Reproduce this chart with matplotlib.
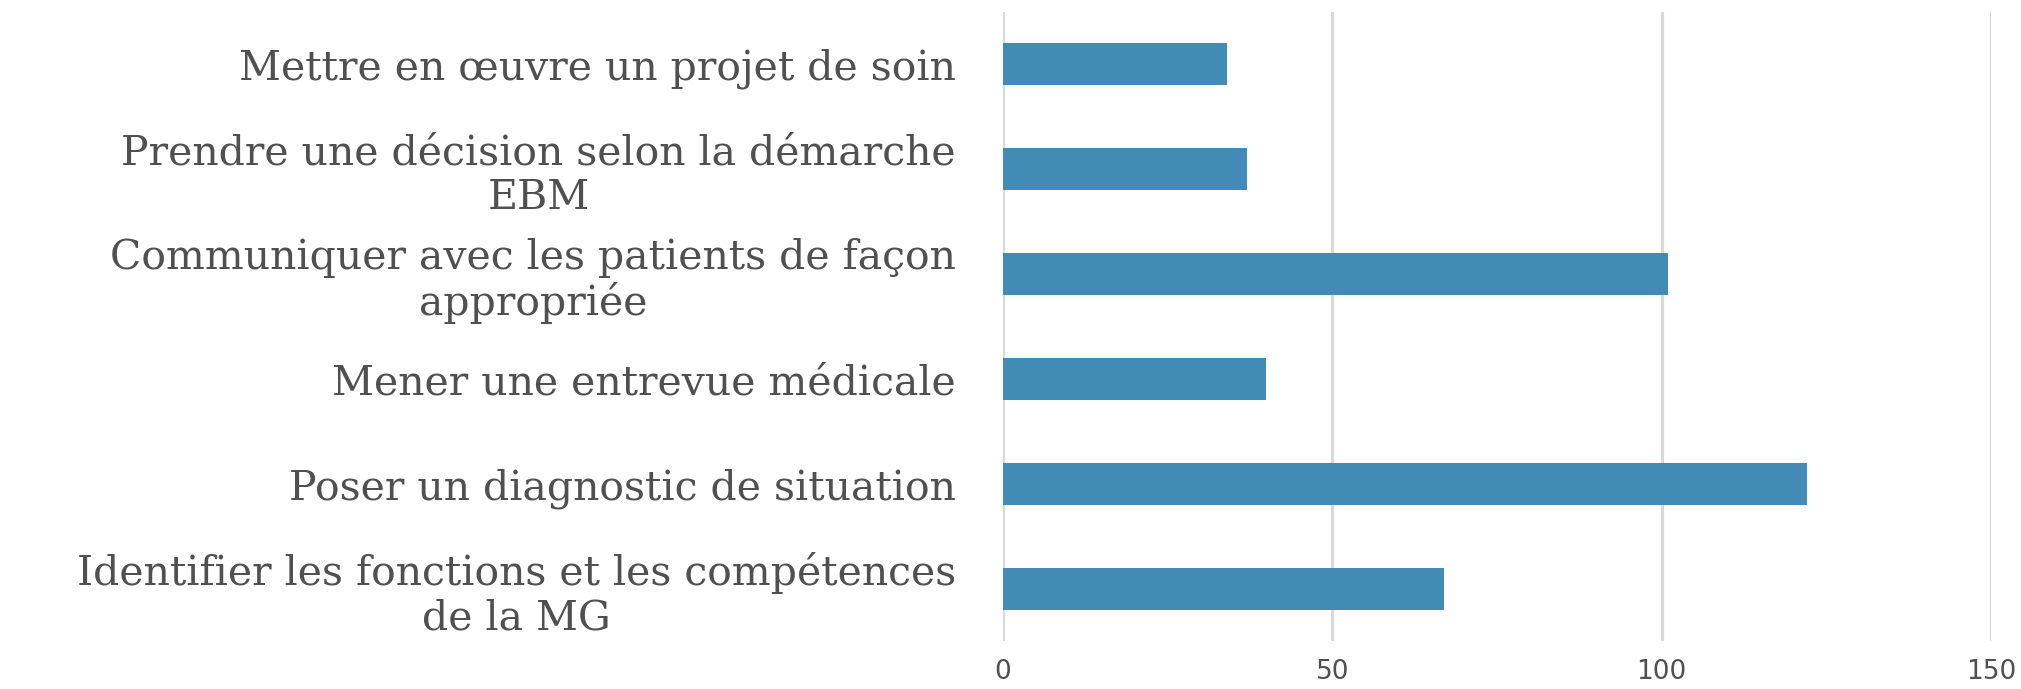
import matplotlib
matplotlib.use("Agg")
import matplotlib.pyplot as plt

categories = [
    "Mettre en œuvre un projet de soin",
    "Prendre une décision selon la démarche\nEBM",
    "Communiquer avec les patients de façon\nappropriée",
    "Mener une entrevue médicale",
    "Poser un diagnostic de situation",
    "Identifier les fonctions et les compétences\nde la MG",
]
values = [34, 37, 101, 40, 122, 67]
xticks = [0, 50, 100, 150]

bar_color = "#428BB5"
text_color = "#505050"
grid_color = "#D9D9D9"

fig = plt.figure(figsize=(20.21, 6.89), dpi=100)
ax = fig.add_axes([1003 / 2021, 1 - 641 / 689, (1991 - 1003) / 2021, (641 - 12) / 689])

y = list(range(len(categories)))
ax.barh(y, values, height=0.4, color=bar_color, zorder=3)
ax.set_ylim(len(categories) - 0.5, -0.5)
ax.set_xlim(0, 150)
ax.set_xticks(xticks)
ax.set_xticklabels([str(t) for t in xticks], fontsize=19, color=text_color,
                   family="DejaVu Sans")
ax.set_yticks(y)
ax.set_yticklabels(categories, fontsize=29.5, color=text_color, family="DejaVu Serif",
                   ha="right", multialignment="center", linespacing=1.14)
ax.tick_params(axis="y", length=0, pad=34)
ax.tick_params(axis="x", length=0, pad=13)
ax.grid(axis="x", color=grid_color, linewidth=2.3, zorder=0)
ax.set_axisbelow(True)
for s in ax.spines.values():
    s.set_visible(False)

fig.savefig("out.png", dpi=100)
